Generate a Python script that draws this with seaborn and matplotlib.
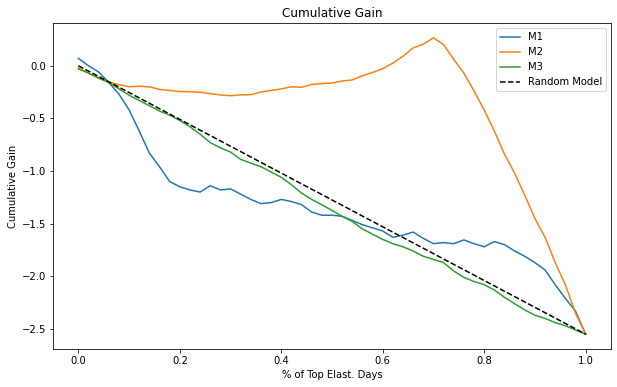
import numpy as np
import pandas as pd
import seaborn as sns
import matplotlib
matplotlib.use("Agg")
import matplotlib.pyplot as plt

##########
## Data ##
##########

pct = np.round(np.arange(0, 1.0001, 0.02), 2)

m1 = [0.07, 0.00, -0.06, -0.16, -0.27, -0.42, -0.62, -0.83, -0.96, -1.10,
      -1.15, -1.18, -1.20, -1.14, -1.18, -1.17, -1.22, -1.27, -1.31, -1.30,
      -1.27, -1.29, -1.32, -1.39, -1.42, -1.42, -1.43, -1.47, -1.51, -1.54,
      -1.57, -1.63, -1.61, -1.58, -1.64, -1.69, -1.68, -1.69, -1.655, -1.69,
      -1.72, -1.67, -1.70, -1.76, -1.81, -1.87, -1.94, -2.08, -2.21, -2.33,
      -2.55]

m2 = [-0.02, -0.07, -0.12, -0.155, -0.18, -0.20, -0.195, -0.20, -0.225, -0.235,
      -0.245, -0.248, -0.252, -0.265, -0.278, -0.285, -0.277, -0.275, -0.25, -0.235,
      -0.22, -0.20, -0.205, -0.178, -0.17, -0.165, -0.145, -0.135, -0.095, -0.064,
      -0.028, 0.025, 0.09, 0.17, 0.205, 0.265, 0.20, 0.06, -0.07, -0.24,
      -0.42, -0.62, -0.84, -1.02, -1.23, -1.45, -1.63, -1.87, -2.08, -2.35,
      -2.55]

m3 = [-0.03, -0.07, -0.115, -0.16, -0.22, -0.28, -0.33, -0.38, -0.43, -0.47,
      -0.52, -0.58, -0.65, -0.73, -0.78, -0.82, -0.89, -0.925, -0.96, -1.01,
      -1.06, -1.13, -1.21, -1.27, -1.32, -1.375, -1.43, -1.48, -1.55, -1.60,
      -1.65, -1.69, -1.72, -1.76, -1.81, -1.84, -1.87, -1.95, -2.01, -2.05,
      -2.08, -2.13, -2.20, -2.26, -2.32, -2.37, -2.40, -2.44, -2.47, -2.51,
      -2.55]

rand_x = [0.0, 1.0]
rand_y = [0.0, -2.55]

df = pd.DataFrame({"pct": pct, "M1": m1, "M2": m2, "M3": m3})
long = df.melt(id_vars="pct", var_name="model", value_name="gain")

##########
## Plot ##
##########

fig = plt.figure(figsize=(617 / 72, 387 / 72), dpi=72)
ax = fig.add_axes([53 / 617, 38 / 387, 558 / 617, 326 / 387])

sns.lineplot(data=long, x="pct", y="gain", hue="model", ax=ax,
             palette=["C0", "C1", "C2"], linewidth=1.5)
sns.lineplot(x=rand_x, y=rand_y, ax=ax, color="black", linestyle="--",
             label="Random Model", linewidth=1.5)

ax.set_title("Cumulative Gain")
ax.set_xlabel("% of Top Elast. Days")
ax.set_ylabel("Cumulative Gain")
ax.legend(loc="upper right")

fig.savefig("out.png", dpi=72)
